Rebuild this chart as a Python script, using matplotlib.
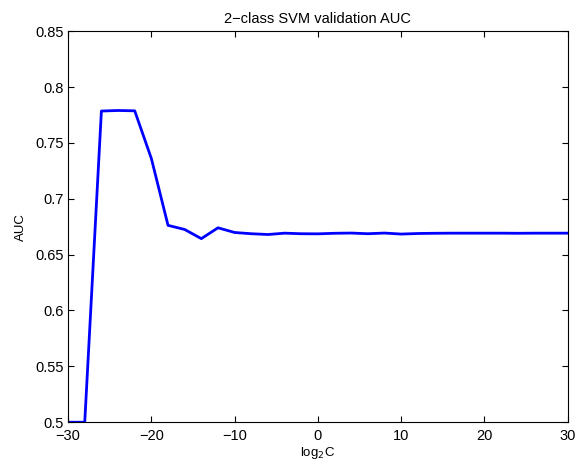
import numpy as np
import matplotlib
matplotlib.use("Agg")
from matplotlib import pyplot as plt
from matplotlib.ticker import FuncFormatter

plt.rcParams['font.family'] = ['Liberation Sans', 'DejaVu Sans']

log2c = list(range(-30, 31, 2))
auc = [0.5, 0.5, 0.7785, 0.779, 0.7787, 0.736, 0.6762, 0.6725, 0.6643, 0.674,
       0.6698, 0.6687, 0.668, 0.6692, 0.6687, 0.6686, 0.6691, 0.6693, 0.6687, 0.6693,
       0.6684, 0.6689, 0.6691, 0.6692, 0.6692, 0.6692, 0.6692, 0.6691, 0.6692, 0.6692,
       0.6692]

fig = plt.figure(figsize=(5.77, 4.65), dpi=100)
ax = fig.add_axes([0.118, 0.092, 0.866, 0.841])
ax.plot(log2c, auc, color=(0, 0, 1), lw=2)

ax.set_xlim(-30, 30)
ax.set_ylim(0.5, 0.85)
ax.set_xticks(range(-30, 31, 10))
ax.set_yticks(np.arange(0.5, 0.851, 0.05))
ax.xaxis.set_major_formatter(FuncFormatter(lambda v, p: ('%g' % v).replace('-', '\u2212')))
ax.yaxis.set_major_formatter(FuncFormatter(lambda v, p: '%g' % round(v, 2)))
ax.tick_params(direction='in', top=True, right=True, length=4, width=0.8, labelsize=10.5, pad=3)
ax.tick_params(axis='x', pad=5)
for s in ax.spines.values():
    s.set_linewidth(0.8)

ax.set_title('2\u2212class SVM validation AUC', fontsize=10.5, pad=6)
ax.set_xlabel('log$_2$C', fontsize=9.5, labelpad=1)
ax.set_ylabel('AUC', fontsize=9.5, labelpad=6)

fig.savefig('out.png', dpi=100)
